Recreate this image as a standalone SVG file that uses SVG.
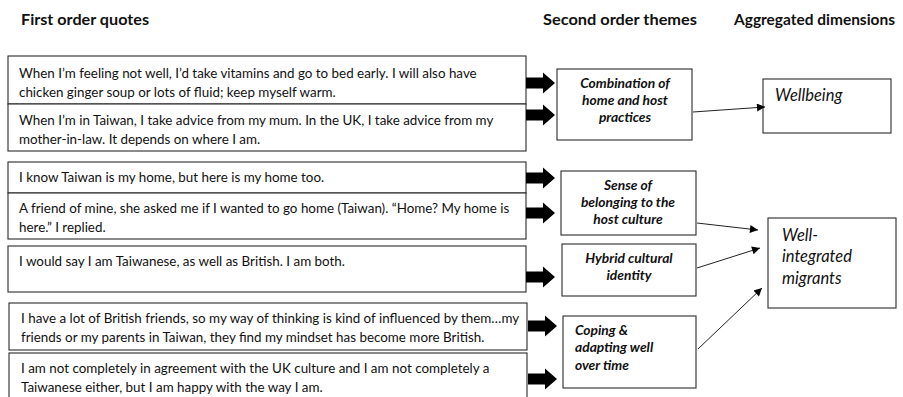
<svg xmlns="http://www.w3.org/2000/svg" width="903" height="397" viewBox="0 0 903 397">
<style>
.bg{fill:#fff}
.box{fill:#fff;stroke:#2b2b2b;stroke-width:1.1}
.hdr{font-family:Lato,"Liberation Sans",sans-serif;font-weight:bold;font-size:15.5px;fill:#111}
.q{font-family:Lato,"Liberation Sans",sans-serif;font-size:13.4px;fill:#111}
.th{font-family:Lato,"Liberation Sans",sans-serif;font-size:13.8px;font-weight:bold;font-style:italic;fill:#111}
.agg{font-family:Lato,"Liberation Sans",sans-serif;font-size:16.5px;font-style:italic;fill:#111}
.con{stroke:#222;stroke-width:1;fill:none;marker-end:url(#tri)}
</style>
<defs>
<path id="barrow" d="M0,-5.5 H17 V-10.5 L29,0 L17,10.5 V5.5 H0 Z" fill="#000"/>
<marker id="tri" viewBox="0 0 10 10" refX="10" refY="5" markerWidth="10" markerHeight="8" markerUnits="userSpaceOnUse" orient="auto">
<path d="M0,0 L10,5 L0,10 Z" fill="#000"/>
</marker>
</defs>
<rect class="bg" x="0" y="0" width="903" height="397"/>
<g id="headers">
<text class="hdr" x="21" y="25" textLength="128" lengthAdjust="spacingAndGlyphs">First order quotes</text>
<text class="hdr" x="543" y="25" textLength="154" lengthAdjust="spacingAndGlyphs">Second order themes</text>
<text class="hdr" x="734" y="25" textLength="161" lengthAdjust="spacingAndGlyphs">Aggregated dimensions</text>
</g>
<g id="q1">
<rect class="box" x="8" y="56" width="518" height="48"/>
<text class="q" x="19" y="78">When I’m feeling not well, I’d take vitamins and go to bed early. I will also have</text>
<text class="q" x="19" y="97">chicken ginger soup or lots of fluid; keep myself warm.</text>
</g>
<g id="q2">
<rect class="box" x="8" y="104" width="518" height="47"/>
<text class="q" x="19" y="125">When I’m in Taiwan, I take advice from my mum. In the UK, I take advice from my</text>
<text class="q" x="19" y="144">mother-in-law. It depends on where I am.</text>
</g>
<g id="q3">
<rect class="box" x="8" y="162" width="518" height="31"/>
<text class="q" x="19" y="182">I know Taiwan is my home, but here is my home too.</text>
</g>
<g id="q4">
<rect class="box" x="8" y="193" width="518" height="46"/>
<text class="q" x="19" y="213">A friend of mine, she asked me if I wanted to go home (Taiwan). “Home? My home is</text>
<text class="q" x="19" y="232">here.” I replied.</text>
</g>
<g id="q5">
<rect class="box" x="8" y="246" width="518" height="46"/>
<text class="q" x="19" y="266">I would say I am Taiwanese, as well as British. I am both.</text>
</g>
<g id="q6">
<rect class="box" x="9" y="303" width="518" height="47"/>
<text class="q" x="21" y="323">I have a lot of British friends, so my way of thinking is kind of influenced by them…my</text>
<text class="q" x="21" y="342">friends or my parents in Taiwan, they find my mindset has become more British.</text>
</g>
<g id="q7">
<rect class="box" x="9" y="353" width="518" height="50"/>
<text class="q" x="21" y="373">I am not completely in agreement with the UK culture and I am not completely a</text>
<text class="q" x="21" y="392">Taiwanese either, but I am happy with the way I am.</text>
</g>
<g id="arrows">
<use href="#barrow" x="526" y="83"/>
<use href="#barrow" x="526" y="115"/>
<use href="#barrow" x="526" y="178"/>
<use href="#barrow" x="526" y="213"/>
<use href="#barrow" x="526" y="277"/>
<use href="#barrow" x="528" y="326"/>
<use href="#barrow" x="528" y="379"/>
</g>
<g id="t1">
<rect class="box" x="557" y="69" width="135" height="71"/>
<text class="th" x="625" y="88" text-anchor="middle">Combination of</text>
<text class="th" x="625" y="105" text-anchor="middle">home and host</text>
<text class="th" x="625" y="122" text-anchor="middle">practices</text>
</g>
<g id="t2">
<rect class="box" x="561" y="171" width="135" height="64"/>
<text class="th" x="628" y="190" text-anchor="middle">Sense of</text>
<text class="th" x="628" y="207" text-anchor="middle">belonging to the</text>
<text class="th" x="628" y="224" text-anchor="middle">host culture</text>
</g>
<g id="t3">
<rect class="box" x="562" y="244" width="134" height="52"/>
<text class="th" x="629" y="263" text-anchor="middle">Hybrid cultural</text>
<text class="th" x="629" y="280" text-anchor="middle">identity</text>
</g>
<g id="t4">
<rect class="box" x="563" y="316" width="133" height="72"/>
<text class="th" x="575" y="335">Coping &amp;</text>
<text class="th" x="575" y="352">adapting well</text>
<text class="th" x="575" y="370">over time</text>
</g>
<g id="a1">
<rect class="box" x="763" y="79" width="128" height="54"/>
<text class="agg" x="775" y="101">Wellbeing</text>
</g>
<g id="a2">
<rect class="box" x="768" y="218" width="128" height="90"/>
<text class="agg" x="782" y="241">Well-</text>
<text class="agg" x="782" y="262">integrated</text>
<text class="agg" x="782" y="284">migrants</text>
</g>
<g id="connectors">
<line class="con" x1="693" y1="112" x2="765" y2="107"/>
<line class="con" x1="697" y1="223" x2="758" y2="230"/>
<line class="con" x1="697" y1="268" x2="760" y2="248"/>
<line class="con" x1="698" y1="349" x2="762" y2="288"/>
</g>
</svg>
